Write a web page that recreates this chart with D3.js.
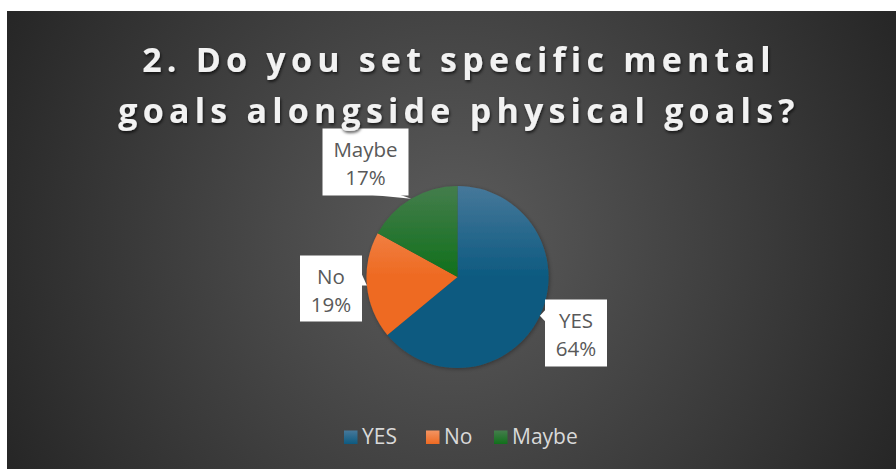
<!DOCTYPE html>
<html>
<head>
<meta charset="utf-8">
<script src="https://cdn.jsdelivr.net/npm/d3@7"></script>
<style>
  html, body { margin: 0; padding: 0; background: #ffffff; }
  svg { display: block; }
</style>
</head>
<body>
<svg id="chart" width="896" height="469"></svg>
<script>
// Survey answers
const categories = ["YES", "No", "Maybe"];
const values = [64, 19, 17];
const titleLines = ["2. Do you set specific mental", "goals alongside physical goals?"];

// Slice colours: [top, bottom] of the vertical gradient
const sliceColors = {
  "YES":   ["#46789a", "#0d5a80"],
  "No":    ["#f39462", "#ee6a22"],
  "Maybe": ["#447d4c", "#11701b"]
};

// Callout placement relative to the pie centre, and which box edge the pointer leaves from
const calloutLayout = {
  "YES":   { dx: 118.5, dy: 56,   w: 62, h: 67, side: "left" },
  "No":    { dx: -126.5, dy: 11.5, w: 62, h: 66, side: "right" },
  "Maybe": { dx: -92,  dy: -115,  w: 86, h: 67, side: "bottom" }
};

const W = 896, H = 469;
const svg = d3.select("#chart");
const defs = svg.append("defs");

// Chart area with radial background
const area = { x: 7, y: 11, w: W - 7, h: H - 11 };
const bg = defs.append("radialGradient")
  .attr("id", "bgGrad")
  .attr("gradientUnits", "userSpaceOnUse")
  .attr("cx", area.x + area.w / 2).attr("cy", area.y + area.h / 2)
  .attr("r", 500);
bg.append("stop").attr("offset", "0").attr("stop-color", "#5c5c5c");
bg.append("stop").attr("offset", "1").attr("stop-color", "#262626");

svg.append("rect")
  .attr("x", area.x).attr("y", area.y)
  .attr("width", area.w).attr("height", area.h)
  .attr("fill", "url(#bgGrad)");

// Title shadow
const shadow = defs.append("filter").attr("id", "titleShadow")
  .attr("x", "-10%").attr("y", "-30%").attr("width", "120%").attr("height", "160%");
shadow.append("feDropShadow")
  .attr("dx", 1).attr("dy", 2).attr("stdDeviation", 1.6)
  .attr("flood-color", "#000").attr("flood-opacity", 0.65);

const pieShadow = defs.append("filter").attr("id", "pieShadow")
  .attr("x", "-20%").attr("y", "-20%").attr("width", "140%").attr("height", "140%");
pieShadow.append("feDropShadow")
  .attr("dx", 1).attr("dy", 1).attr("stdDeviation", 2)
  .attr("flood-color", "#000").attr("flood-opacity", 0.35);

// Pie
const cx = 457.5, cy = 277, R = 91;
const data = categories.map((c, i) => ({ category: c, value: values[i] }));
const pie = d3.pie().sort(null).value(d => d.value).startAngle(0).endAngle(2 * Math.PI);
const arcs = pie(data);
const arc = d3.arc().innerRadius(0).outerRadius(R);
const total = d3.sum(values);

// gradients in the pie group's local coordinates (origin at the centre)
categories.forEach(c => {
  const g = defs.append("linearGradient")
    .attr("id", "grad-" + c)
    .attr("gradientUnits", "userSpaceOnUse")
    .attr("x1", 0).attr("y1", -R).attr("x2", 0).attr("y2", 0);
  g.append("stop").attr("offset", "0").attr("stop-color", sliceColors[c][0]);
  g.append("stop").attr("offset", "1").attr("stop-color", sliceColors[c][1]);
});

const pieG = svg.append("g")
  .attr("transform", `translate(${cx},${cy})`)
  .attr("filter", "url(#pieShadow)");

pieG.selectAll("path.slice")
  .data(arcs)
  .join("path")
  .attr("class", "slice")
  .attr("d", arc)
  .attr("fill", d => `url(#grad-${d.data.category})`);

// Callouts
const fontStack = "'Open Sans', 'Noto Sans', 'DejaVu Sans', sans-serif";
const callG = svg.append("g").attr("transform", `translate(${cx},${cy})`);

arcs.forEach(a => {
  const c = a.data.category;
  const L = calloutLayout[c];
  const mid = (a.startAngle + a.endAngle) / 2;
  const tip = [R * Math.sin(mid), -R * Math.cos(mid)];
  const bx = L.dx - L.w / 2, by = L.dy - L.h / 2;

  // pointer base on the chosen box edge
  let p1, p2;
  const half = 6;
  if (L.side === "left") {
    const yy = Math.max(by + half, Math.min(by + L.h - half, tip[1]));
    p1 = [bx + 0.5, yy - half]; p2 = [bx + 0.5, yy + half];
  } else if (L.side === "right") {
    const yy = Math.max(by + half, Math.min(by + L.h - half, tip[1] - 6));
    p1 = [bx + L.w - 0.5, yy - half]; p2 = [bx + L.w - 0.5, yy + half];
  } else {
    const xx = bx + L.w - 22;
    p1 = [xx - 14, by + L.h - 0.5]; p2 = [xx + 14, by + L.h - 0.5];
  }

  callG.append("path")
    .attr("d", d3.line()([p1, tip, p2]) + "Z")
    .attr("fill", "#ffffff");

  callG.append("rect")
    .attr("x", bx).attr("y", by)
    .attr("width", L.w).attr("height", L.h)
    .attr("fill", "#ffffff");

  const pct = Math.round(a.data.value / total * 100) + "%";
  const t = callG.append("text")
    .attr("text-anchor", "middle")
    .attr("font-family", fontStack)
    .attr("font-size", 20.5)
    .attr("fill", "#595959");
  t.append("tspan").attr("x", L.dx).attr("y", by + 28).text(c);
  t.append("tspan").attr("x", L.dx).attr("y", by + 56).text(pct);
});

// Legend
const legendItems = [
  { x: 344, tx: 362 },
  { x: 426, tx: 444 },
  { x: 494, tx: 512 }
];
const legend = svg.append("g");
categories.forEach((c, i) => {
  const g = defs.append("linearGradient")
    .attr("id", "lg-" + c)
    .attr("x1", 0).attr("y1", 0).attr("x2", 0).attr("y2", 1);
  g.append("stop").attr("offset", "0").attr("stop-color", sliceColors[c][0]);
  g.append("stop").attr("offset", "1").attr("stop-color", sliceColors[c][1]);

  legend.append("rect")
    .attr("x", legendItems[i].x).attr("y", 430.5)
    .attr("width", 13.5).attr("height", 13.5)
    .attr("fill", `url(#lg-${c})`);
  legend.append("text")
    .attr("x", legendItems[i].tx).attr("y", 444)
    .attr("font-family", fontStack)
    .attr("font-size", 21)
    .attr("fill", "#d9d9d9")
    .text(c);
});

// Title
const title = svg.append("g").attr("filter", "url(#titleShadow)");
title.selectAll("text")
  .data(titleLines)
  .join("text")
  .attr("x", 459)
  .attr("y", (d, i) => 72 + i * 51)
  .attr("text-anchor", "middle")
  .attr("font-family", fontStack)
  .attr("font-weight", 700)
  .attr("font-size", 34)
  .attr("letter-spacing", "5.2px")
  .attr("fill", "#f2f2f2")
  .text(d => d);
</script>
</body>
</html>
